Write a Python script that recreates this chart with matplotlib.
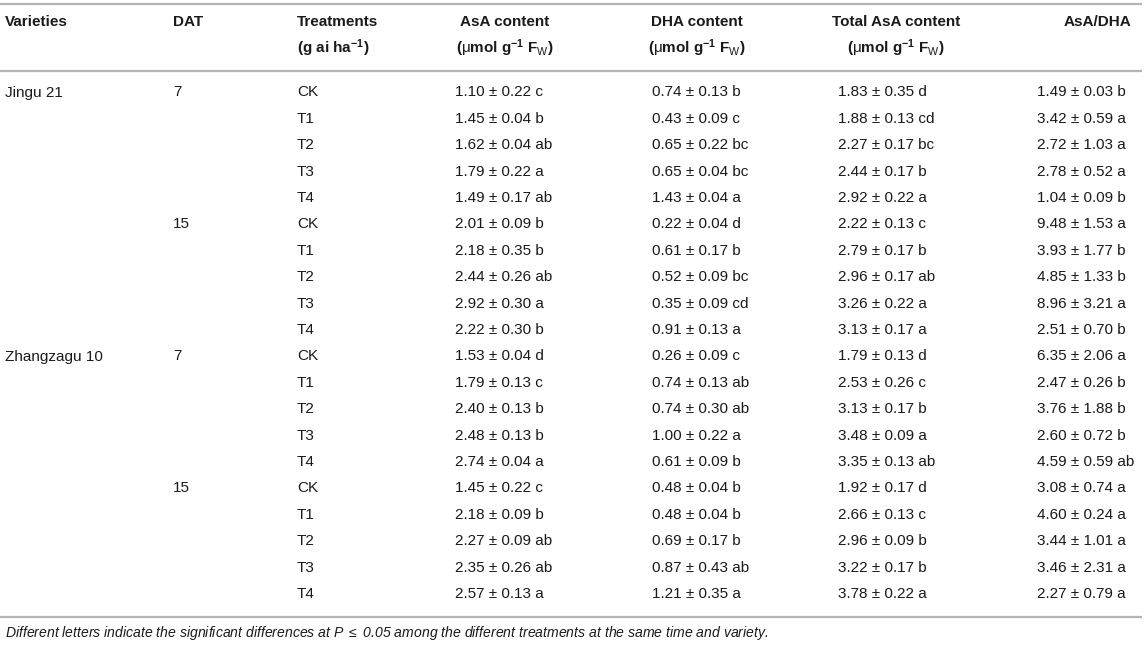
import matplotlib.pyplot as plt

plt.rcParams['font.family'] = 'Liberation Sans'
plt.rcParams['mathtext.fontset'] = 'custom'
plt.rcParams['mathtext.rm'] = 'Liberation Sans'
plt.rcParams['mathtext.bf'] = 'Liberation Sans:bold'
plt.rcParams['mathtext.it'] = 'Liberation Sans:italic'

# dados da tabela
varieties = ["Jingu 21", "Zhangzagu 10"]
dat = ["7", "15"]
treatments = ["CK", "T1", "T2", "T3", "T4"]

asa_mean = [1.10, 1.45, 1.62, 1.79, 1.49, 2.01, 2.18, 2.44, 2.92, 2.22,
            1.53, 1.79, 2.40, 2.48, 2.74, 1.45, 2.18, 2.27, 2.35, 2.57]
asa_sd = [0.22, 0.04, 0.04, 0.22, 0.17, 0.09, 0.35, 0.26, 0.30, 0.30,
          0.04, 0.13, 0.13, 0.13, 0.04, 0.22, 0.09, 0.09, 0.26, 0.13]
asa_sig = ["c", "b", "ab", "a", "ab", "b", "b", "ab", "a", "b",
           "d", "c", "b", "b", "a", "c", "b", "ab", "ab", "a"]

dha_mean = [0.74, 0.43, 0.65, 0.65, 1.43, 0.22, 0.61, 0.52, 0.35, 0.91,
            0.26, 0.74, 0.74, 1.00, 0.61, 0.48, 0.48, 0.69, 0.87, 1.21]
dha_sd = [0.13, 0.09, 0.22, 0.04, 0.04, 0.04, 0.17, 0.09, 0.09, 0.13,
          0.09, 0.13, 0.30, 0.22, 0.09, 0.04, 0.04, 0.17, 0.43, 0.35]
dha_sig = ["b", "c", "bc", "bc", "a", "d", "b", "bc", "cd", "a",
           "c", "ab", "ab", "a", "b", "b", "b", "b", "ab", "a"]

tot_mean = [1.83, 1.88, 2.27, 2.44, 2.92, 2.22, 2.79, 2.96, 3.26, 3.13,
            1.79, 2.53, 3.13, 3.48, 3.35, 1.92, 2.66, 2.96, 3.22, 3.78]
tot_sd = [0.35, 0.13, 0.17, 0.17, 0.22, 0.13, 0.17, 0.17, 0.22, 0.17,
          0.13, 0.26, 0.17, 0.09, 0.13, 0.17, 0.13, 0.09, 0.17, 0.22]
tot_sig = ["d", "cd", "bc", "b", "a", "c", "b", "ab", "a", "a",
           "d", "c", "b", "a", "ab", "d", "c", "b", "b", "a"]

ratio_mean = [1.49, 3.42, 2.72, 2.78, 1.04, 9.48, 3.93, 4.85, 8.96, 2.51,
              6.35, 2.47, 3.76, 2.60, 4.59, 3.08, 4.60, 3.44, 3.46, 2.27]
ratio_sd = [0.03, 0.59, 1.03, 0.52, 0.09, 1.53, 1.77, 1.33, 3.21, 0.70,
            2.06, 0.26, 1.88, 0.72, 0.59, 0.74, 0.24, 1.01, 2.31, 0.79]
ratio_sig = ["b", "a", "a", "a", "b", "a", "b", "b", "a", "b",
             "a", "b", "b", "b", "ab", "a", "a", "a", "a", "a"]

footnote = ("Different letters indicate the significant differences at $P$ $\\leq$ 0.05 "
            "among the different treatments at the same time and variety.")

W, H = 1145, 645
fig = plt.figure(figsize=(W / 100, H / 100), dpi=100)
ax = fig.add_axes([0, 0, 1, 1])
ax.set_xlim(0, W)
ax.set_ylim(H, 0)
ax.axis('off')

cor_txt = '#1a1a1a'
cor_linha = '#b5b5b5'
fs = 11.0

# linhas horizontais
y_top, y_head, y_bot = 3.5, 71, 616.5
for y in (y_top, y_head, y_bot):
    ax.plot([0, 1142], [y, y], color=cor_linha, lw=1.6, solid_capstyle='butt')

# cabecalho
h1, h2 = 22, 48
unid = r"$\mathbf{(}\mathrm{\mu}\mathbf{mol\ g^{-1}\ F}_{\mathrm{W}}\mathbf{)}$"
ax.text(5, h1, "Varieties", fontsize=fs, fontweight='bold', va='center', color=cor_txt)
ax.text(173, h1, "DAT", fontsize=fs, fontweight='bold', va='center', color=cor_txt)
ax.text(297, h1, "Treatments", fontsize=fs, fontweight='bold', va='center', color=cor_txt)
ax.text(297, h2, r"$\mathbf{(g\ ai\ ha^{-1})}$", fontsize=fs, va='center', color=cor_txt)
cabec = [("AsA content", 505, True), ("DHA content", 697, True),
         ("Total AsA content", 896, True), ("AsA/DHA", 1097, False)]
for nome, xc, com_unid in cabec:
    ax.text(xc, h1, nome, fontsize=fs, fontweight='bold', ha='center', va='center', color=cor_txt)
    if com_unid:
        ax.text(xc, h2, unid, fontsize=fs, ha='center', va='center', color=cor_txt)

# linhas de dados
y0, dy = 92.5, 26.4
colunas = [(455, asa_mean, asa_sd, asa_sig), (652, dha_mean, dha_sd, dha_sig),
           (838, tot_mean, tot_sd, tot_sig), (1037, ratio_mean, ratio_sd, ratio_sig)]
for i in range(len(asa_mean)):
    y = y0 + i * dy
    if i % 10 == 0:
        ax.text(5, y, varieties[i // 10], fontsize=fs, va='center', color=cor_txt)
    if i % 5 == 0:
        ax.text(173, y, dat[(i // 5) % 2], fontsize=fs, va='center', color=cor_txt)
    ax.text(297, y, treatments[i % 5], fontsize=fs, va='center', color=cor_txt)
    for xl, m, s, l in colunas:
        ax.text(xl, y, f"{m[i]:.2f} \u00b1 {s[i]:.2f} {l[i]}", fontsize=fs, va='center', color=cor_txt)

ax.text(5, 633, footnote, fontsize=10.1, fontstyle='italic', va='center', color=cor_txt)

fig.savefig("out.png", dpi=100)
